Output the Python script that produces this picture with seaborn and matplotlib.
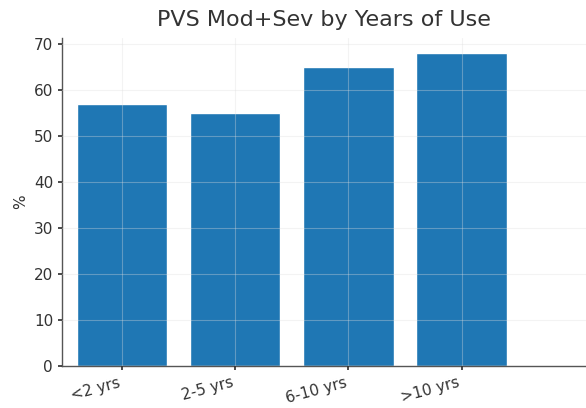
import matplotlib
matplotlib.use("Agg")
import matplotlib.pyplot as plt
import seaborn as sns
import pandas as pd

categories = ["<2 yrs", "2-5 yrs", "6-10 yrs", ">10 yrs"]
values = [57, 55, 65, 68]
title = "PVS Mod+Sev by Years of Use"

sns.set_theme(style="whitegrid")
plt.rcParams["font.family"] = ["DejaVu Sans"]

df = pd.DataFrame({"group": categories, "pct": values})

fig = plt.figure(figsize=(5.86, 4.08), dpi=100)
ax = fig.add_axes([0.106, 0.103, 0.894, 0.805])
sns.barplot(data=df, x="group", y="pct", color="#1f77b4", saturation=1,
            width=0.8, ax=ax)

ax.set_xlim(-0.53, 4.1)
ax.set_axisbelow(False)
ax.grid(True, color="#dddddd", linewidth=0.8, alpha=0.35)
for side in ["top", "right"]:
    ax.spines[side].set_visible(False)
for side in ["left", "bottom"]:
    ax.spines[side].set_visible(True)
    ax.spines[side].set_color("#555555")
    ax.spines[side].set_linewidth(1.0)

ax.tick_params(axis="both", colors="#333333", labelsize=11, length=3,
               left=True, bottom=True)
ax.set_yticks(range(0, 71, 10))
plt.setp(ax.get_xticklabels(), rotation=15, ha="right")
ax.set_xlabel("")
ax.set_ylabel("%", color="#333333", fontsize=11)
ax.set_title(title, fontsize=16, color="#333333", pad=8)

fig.savefig("out.png", dpi=100)
